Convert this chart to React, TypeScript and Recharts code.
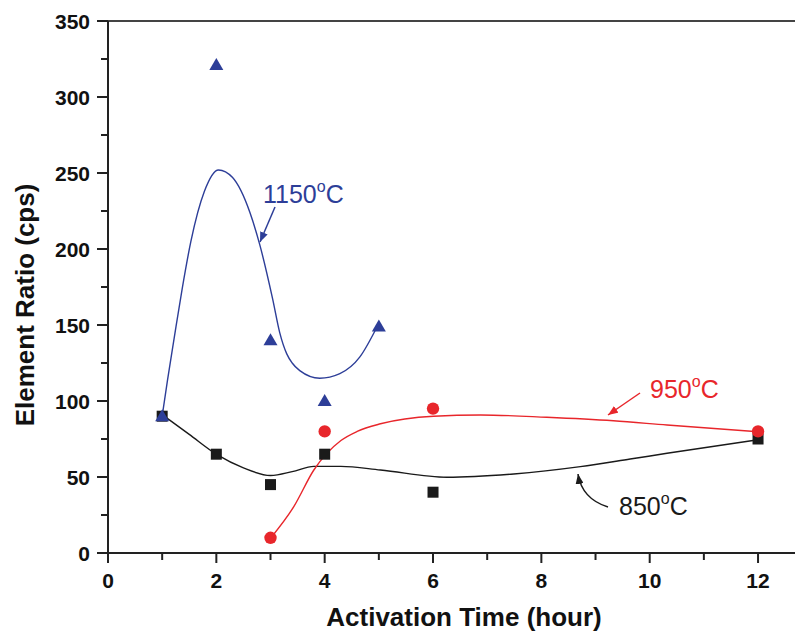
import React from 'react';
import { ComposedChart, Line, Scatter, XAxis, YAxis, ReferenceLine } from 'recharts';

// measured points
const x1150 = [1, 2, 3, 4, 5];
const y1150 = [90, 321, 140, 100, 149];
const x950 = [3, 4, 6, 12];
const y950 = [10, 80, 95, 80];
const x850 = [1, 2, 3, 4, 6, 12];
const y850 = [90, 65, 45, 65, 40, 75];

// fitted curves
const fit1150X = [1, 1.1, 1.22, 1.37, 1.53, 1.78, 2.04, 2.3, 2.62, 2.8, 3.04, 3.17, 3.3, 3.4, 3.54, 3.91, 4.28, 4.65, 4.97];
const fit1150Y = [90, 114, 141, 174, 205, 238, 252, 247, 224, 203, 167, 145, 131, 125, 120, 115, 118, 129, 149];
const fit950X = [3.0, 3.43, 3.8, 4.3, 4.6, 5.03, 6.01, 6.88, 8.1, 9.33, 10.32, 12];
const fit950Y = [9.7, 30.5, 54.6, 74, 80, 85, 90, 90.8, 89.3, 87, 84.2, 79.8];
const fit850X = [1, 1.5, 2.02, 2.5, 3.0, 3.4, 3.8, 4.3, 5.03, 6.26, 7.49, 8.72, 9.64, 10.32, 12];
const fit850Y = [91, 78, 64.5, 56, 51, 53.5, 57, 57, 54.6, 49.8, 52, 56.8, 61.8, 65.6, 74.5];

const xTicks = [0, 1, 2, 3, 4, 5, 6, 7, 8, 9, 10, 11, 12];
const yTicks = [0, 25, 50, 75, 100, 125, 150, 175, 200, 225, 250, 275, 300, 325, 350];

const pts = (xs: number[], ys: number[]) => xs.map((x, i) => ({ x, y: ys[i] }));

const W = 795;
const H = 624;
const LEFT = 100;
const TOP = 13;
const PLOT_H = 532;
const BOTTOM = TOP + PLOT_H;
const FONT = "Arial, 'Liberation Sans', Helvetica, sans-serif";
const AXIS = '#222';
const BLUE = '#2d3e98';
const RED = '#e8262b';
const BLACK = '#1a1a1a';

const XTick = (props: any) => {
  const { x, payload } = props;
  const major = payload.value % 2 === 0;
  return (
    <g>
      <line x1={x} x2={x} y1={BOTTOM} y2={BOTTOM + (major ? 10 : 7)} stroke={AXIS} strokeWidth={2} />
      {major && (
        <text x={x} y={BOTTOM + 35} textAnchor="middle" fontFamily={FONT} fontWeight="bold" fontSize={21} fill="#111">
          {payload.value}
        </text>
      )}
    </g>
  );
};

const YTick = (props: any) => {
  const { y, payload } = props;
  const major = payload.value % 50 === 0;
  return (
    <g>
      <line x1={LEFT - (major ? 11 : 7)} x2={LEFT} y1={y} y2={y} stroke={AXIS} strokeWidth={2} />
      {major && (
        <text x={LEFT - 18} y={y} dy="0.36em" textAnchor="end" fontFamily={FONT} fontWeight="bold" fontSize={21} fill="#111">
          {payload.value}
        </text>
      )}
    </g>
  );
};

const Triangle = (p: any) => (
  <polygon points={`${p.cx - 7},${p.cy + 5} ${p.cx + 7},${p.cy + 5} ${p.cx},${p.cy - 7}`} fill={BLUE} />
);
const Square = (p: any) => <rect x={p.cx - 5.5} y={p.cy - 5.5} width={11} height={11} fill={BLACK} />;
const Dot = (p: any) => <circle cx={p.cx} cy={p.cy} r={6.2} fill={RED} />;

const Degree = ({ x, y, color, label }: { x: number; y: number; color: string; label: string }) => (
  <text x={x} y={y} fontFamily={FONT} fontSize={25} fill={color}>
    {label}
    <tspan fontSize={16} dy={-11}>o</tspan>
    <tspan dy={11}>C</tspan>
  </text>
);

export default function App() {
  return (
    <div style={{ position: 'relative', width: W, height: H }}>
      <ComposedChart width={W} height={H} margin={{ top: TOP, right: 0, bottom: 0, left: 0 }}>
        <XAxis
          type="number"
          dataKey="x"
          domain={[0, 12.83]}
          allowDataOverflow
          ticks={xTicks}
          interval={0}
          tick={<XTick />}
          tickLine={false}
          axisLine={{ stroke: AXIS, strokeWidth: 2 }}
          height={H - BOTTOM}
        />
        <YAxis
          type="number"
          dataKey="y"
          domain={[0, 350]}
          ticks={yTicks}
          interval={0}
          tick={<YTick />}
          tickLine={false}
          axisLine={{ stroke: AXIS, strokeWidth: 2 }}
          width={LEFT}
        />
        <ReferenceLine y={350} stroke="#444" strokeWidth={2} />
        <Line data={pts(fit850X, fit850Y)} dataKey="y" type="monotone" stroke={BLACK} strokeWidth={1.4} dot={false} isAnimationActive={false} />
        <Scatter data={pts(x850, y850)} dataKey="y" shape={Square} isAnimationActive={false} />
        <Line data={pts(fit950X, fit950Y)} dataKey="y" type="monotone" stroke={RED} strokeWidth={1.4} dot={false} isAnimationActive={false} />
        <Scatter data={pts(x950, y950)} dataKey="y" shape={Dot} isAnimationActive={false} />
        <Line data={pts(fit1150X, fit1150Y)} dataKey="y" type="monotone" stroke={BLUE} strokeWidth={1.4} dot={false} isAnimationActive={false} />
        <Scatter data={pts(x1150, y1150)} dataKey="y" shape={Triangle} isAnimationActive={false} />
      </ComposedChart>
      <svg width={W} height={H} style={{ position: 'absolute', left: 0, top: 0, pointerEvents: 'none' }}>
        <defs>
          {[['b', BLUE], ['r', RED], ['k', BLACK]].map(([id, c]) => (
            <marker key={id} id={`ah-${id}`} markerUnits="userSpaceOnUse" markerWidth={10} markerHeight={8} refX={10} refY={4} orient="auto">
              <path d="M0,0 L10,4 L0,8 z" fill={c} />
            </marker>
          ))}
        </defs>
        <Degree x={255} y={195} color={BLUE} label="1150" />
        <line x1={267} y1={199} x2={252} y2={234} stroke={BLUE} strokeWidth={1.5} markerEnd="url(#ah-b)" />
        <Degree x={642} y={390} color={RED} label="950" />
        <line x1={632} y1={385} x2={600} y2={407} stroke={RED} strokeWidth={1.5} markerEnd="url(#ah-r)" />
        <Degree x={611} y={507} color={BLACK} label="850" />
        <path d="M600,499 Q574,491 570,466" fill="none" stroke={BLACK} strokeWidth={1.5} markerEnd="url(#ah-k)" />
        <text x={456} y={618} textAnchor="middle" fontFamily={FONT} fontWeight="bold" fontSize={26} fill="#111">
          Activation Time (hour)
        </text>
        <text transform="translate(26,297) rotate(-90)" textAnchor="middle" fontFamily={FONT} fontWeight="bold" fontSize={26} fill="#111">
          Element Ratio (cps)
        </text>
      </svg>
    </div>
  );
}
